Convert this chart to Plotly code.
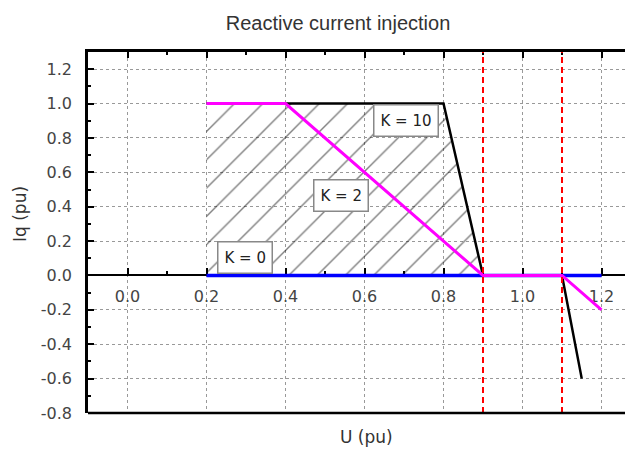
import plotly.graph_objects as go

# --- data ---
hatch_u = [0.2, 0.2, 0.8, 0.9, 0.2]
hatch_iq = [0.0, 1.0, 1.0, 0.0, 0.0]

k0_u = [0.2, 1.2]
k0_iq = [0.0, 0.0]

k10_u = [0.2, 0.8, 0.9, 1.1, 1.15]
k10_iq = [1.0, 1.0, 0.0, 0.0, -0.6]

k2_u = [0.2, 0.4, 0.9, 1.1, 1.2]
k2_iq = [1.0, 1.0, 0.0, 0.0, -0.2]

u_limits = [0.9, 1.1]

labels = ["K = 10", "K = 2", "K = 0"]
label_u = [0.704, 0.54, 0.297]
label_iq = [0.9, 0.465, 0.105]

x_tickvals = [0.0, 0.2, 0.4, 0.6, 0.8, 1.0, 1.2]
x_ticktext = ["0.0", "0.2", "0.4", "0.6", "0.8", "1.0", "1.2"]
y_tickvals = [-0.8, -0.6, -0.4, -0.2, 0.0, 0.2, 0.4, 0.6, 0.8, 1.0, 1.2]
y_ticktext = ["-0.8", "-0.6", "-0.4", "-0.2", "0.0", "0.2", "0.4", "0.6", "0.8", "1.0", "1.2"]

x_range = [-0.1, 1.3]
y_range = [-0.8, 1.3]

tick_font = dict(family="DejaVu Sans", size=16, color="#444")
label_font = dict(family="DejaVu Sans", size=17, color="#333")

fig = go.Figure()

fig.add_trace(go.Scatter(
    x=hatch_u, y=hatch_iq, mode="lines", fill="toself",
    line=dict(width=0), fillcolor="rgba(0,0,0,0)",
    fillpattern=dict(shape="/", size=20, solidity=0.07, fgcolor="#000", bgcolor="rgba(0,0,0,0)"),
    hoverinfo="skip", showlegend=False))

fig.add_trace(go.Scatter(x=k0_u, y=k0_iq, mode="lines",
                         line=dict(color="#0000ff", width=3.5), showlegend=False))
fig.add_trace(go.Scatter(x=k10_u, y=k10_iq, mode="lines",
                         line=dict(color="#000000", width=2.5), showlegend=False))
fig.add_trace(go.Scatter(x=k2_u, y=k2_iq, mode="lines",
                         line=dict(color="#ff00ff", width=3), showlegend=False))

for u in u_limits:
    fig.add_shape(type="line", x0=u, x1=u, y0=0, y1=1, xref="x", yref="paper",
                  line=dict(color="#ff0000", width=2, dash="6px,4px"), layer="above")

# bottom frame line
fig.add_shape(type="line", x0=0, x1=1, y0=0, y1=0, xref="paper", yref="paper",
              line=dict(color="#000", width=2.5), layer="above")

for t, u, q in zip(labels, label_u, label_iq):
    fig.add_annotation(x=u, y=q, text=t, showarrow=False,
                       font=dict(family="DejaVu Sans", size=15, color="#222"),
                       bgcolor="white", bordercolor="#888", borderwidth=1.5, borderpad=6)

# plot area on screen: x 88..641, y 52..413 (page has an 8px body margin)
PW, PH = 553.0, 361.0
fig.add_annotation(text="Iq (pu)", xref="paper", yref="paper",
                   x=(20 - 88) / PW, y=(413 - 214) / PH, textangle=-90, showarrow=False,
                   xanchor="center", yanchor="middle", font=label_font)
fig.add_annotation(text="U (pu)", xref="paper", yref="paper",
                   x=(366 - 88) / PW, y=-(437 - 413) / PH, showarrow=False,
                   xanchor="center", yanchor="middle", font=label_font)

x_pos = (0 - y_range[0]) / (y_range[1] - y_range[0])

fig.update_layout(
    width=633, height=451,
    margin=dict(l=80, r=0, t=44, b=46, autoexpand=False),
    paper_bgcolor="white", plot_bgcolor="white",
    title=dict(text="Reactive current injection", x=(338 - 8) / 633, xref="container",
               xanchor="center", y=1 - (23 - 8) / 451, yref="container", yanchor="middle",
               font=dict(family="Liberation Sans", size=20, color="#333")),
    xaxis=dict(range=x_range, anchor="free", position=x_pos, automargin=False,
               tickvals=x_tickvals, ticktext=x_ticktext,
               ticks="inside", ticklen=6, tickwidth=2, tickcolor="#000",
               minor=dict(dtick=0.1, tick0=0, ticks="inside", ticklen=3, tickcolor="#000", showgrid=False),
               showline=True, linecolor="#000", linewidth=2, layer="below traces",
               showgrid=True, gridcolor="#999", griddash="dot", gridwidth=1,
               zeroline=False, tickfont=tick_font, ticklabelstandoff=6),
    xaxis2=dict(range=x_range, overlaying="x", side="top", anchor="y", automargin=False,
                tickvals=x_tickvals, showticklabels=False,
                ticks="inside", ticklen=6, tickwidth=2, tickcolor="#000",
                minor=dict(dtick=0.1, tick0=0, ticks="inside", ticklen=3, tickcolor="#000"),
                showline=True, linecolor="#000", linewidth=2.5,
                showgrid=False, zeroline=False),
    yaxis=dict(range=y_range, tickvals=y_tickvals, ticktext=y_ticktext, automargin=False,
               ticks="inside", ticklen=6, tickwidth=2, tickcolor="#000",
               minor=dict(dtick=0.1, tick0=0, ticks="inside", ticklen=3, tickcolor="#000"),
               showline=True, linecolor="#000", linewidth=2.5, mirror="ticks",
               showgrid=True, gridcolor="#999", griddash="dot", gridwidth=1,
               zeroline=False, tickfont=tick_font, ticklabelstandoff=10),
    showlegend=False,
)

# dummy trace to activate the top axis
fig.add_trace(go.Scatter(x=[None], y=[None], xaxis="x2", showlegend=False))

fig.write_html("out.html")
